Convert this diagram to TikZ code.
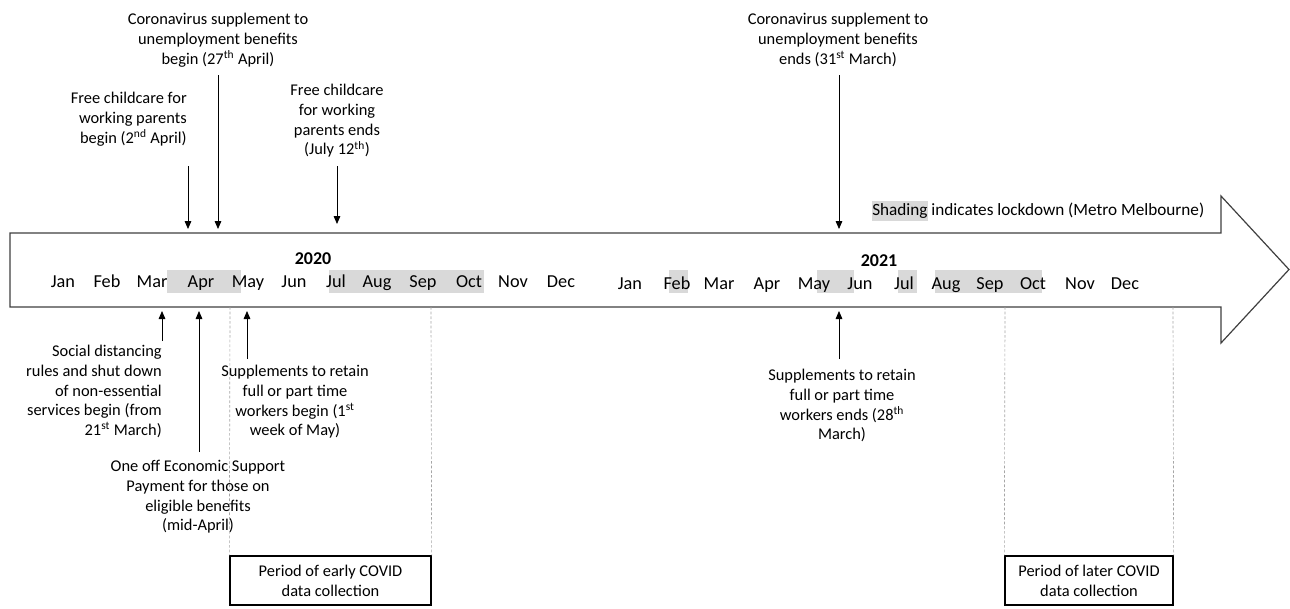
\documentclass[tikz,border=0pt]{standalone}
\usepackage{fontspec}
\setmainfont{Carlito}
\usetikzlibrary{arrows.meta}
\definecolor{shade}{HTML}{D9D9D9}
\definecolor{outl}{HTML}{404040}
\definecolor{dashc}{HTML}{A6A6A6}
\begin{document}
\begin{tikzpicture}[x=0.75pt,y=-0.75pt,
  lbl/.style={font=\fontsize{12.3}{14.8}\selectfont, inner sep=0pt},
  leg/.style={font=\fontsize{12.9}{15.5}\selectfont, inner sep=0pt},
  mon/.style={font=\fontsize{13.7}{16.4}\selectfont, inner sep=0pt, anchor=base},
  yr/.style={font=\fontsize{13.5}{16.2}\selectfont\bfseries, inner sep=0pt, anchor=base},
  evt/.style={-{Triangle[length=6pt,width=5pt]}, line width=0.6pt, black},
  period/.style={draw=black, line width=1pt, font=\fontsize{12.3}{14.8}\selectfont, align=center, inner sep=0pt},
  guide/.style={draw=dashc, line width=0.5pt, dash pattern=on 2pt off 1.5pt},
  shadebox/.style={fill=shade, draw=none}
]
\useasboundingbox (0,0) rectangle (1290,608);
\fill[white] (0,0) rectangle (1290,608);

% timeline arrow body
\draw[outl, line width=0.9pt, line join=miter]
  (10,233) -- (1221,233) -- (1221,196) -- (1289,269.5) -- (1221,343) -- (1221,307) -- (10,307) -- cycle;

% lockdown shading
\fill[shadebox] (167,270) rectangle (241,293);
\fill[shadebox] (329,270) rectangle (484,293);
\fill[shadebox] (669,270) rectangle (688,293);
\fill[shadebox] (817,270) rectangle (854,293);
\fill[shadebox] (898,270) rectangle (917,293);
\fill[shadebox] (935,270) rectangle (1042,293);

% years
\node[yr] (y2020) at (313,264) {2020};
\node[yr] (y2021) at (879,266) {2021};

% months
\foreach \m/\x [count=\i] in {Jan/63,Feb/107,Mar/152,Apr/201,May/248,Jun/294,Jul/336,Aug/377,Sep/423,Oct/469,Nov/513,Dec/561}
  \node[mon] (m20-\i) at (\x,287) {\m};
\foreach \m/\x [count=\i] in {Jan/630,Feb/677,Mar/719,Apr/767,May/814,Jun/860,Jul/904,Aug/946,Sep/990,Oct/1033,Nov/1080,Dec/1125}
  \node[mon] (m21-\i) at (\x,289) {\m};

% legend
\node[leg, anchor=west] (legend) at (872,211)
  {{\setlength\fboxsep{0pt}\colorbox{shade}{Shading\strut}} indicates lockdown (Metro Melbourne)};

% annotations above
\node[lbl, align=center, anchor=north] (cs1) at (218,13)
  {Coronavirus supplement to\\unemployment benefits\\begin (27\textsuperscript{th} April)};
\node[lbl, align=right, anchor=north east] (fc1) at (187,92)
  {Free childcare for\\working parents\\begin (2\textsuperscript{nd} April)};
\node[lbl, align=center, anchor=north] (fc2) at (337,84)
  {Free childcare\\for working\\parents ends\\(July 12\textsuperscript{th})};
\node[lbl, align=center, anchor=north] (cs2) at (838,13)
  {Coronavirus supplement to\\unemployment benefits\\ends (31\textsuperscript{st} March)};

% annotations below
\node[lbl, align=right, anchor=north east] (sd) at (162,345)
  {Social distancing\\rules and shut down\\of non-essential\\services begin (from\\21\textsuperscript{st} March)};
\node[lbl, align=center, anchor=north] (oo) at (198,460)
  {One off Economic Support\\Payment for those on\\eligible benefits\\(mid-April)};
\node[lbl, align=center, anchor=north] (sp1) at (295,365)
  {Supplements to retain\\full or part time\\workers begin (1\textsuperscript{st}\\week of May)};
\node[lbl, align=center, anchor=north] (sp2) at (842,369)
  {Supplements to retain\\full or part time\\workers ends (28\textsuperscript{th}\\March)};

% arrow end points
\coordinate (cs1-a) at (218,75);  \coordinate (cs1-b) at (218,229);
\coordinate (fc1-a) at (188,166); \coordinate (fc1-b) at (188,229);
\coordinate (fc2-a) at (337,166); \coordinate (fc2-b) at (337,224);
\coordinate (cs2-a) at (839,75);  \coordinate (cs2-b) at (839,229);
\coordinate (sd-a) at (162,341);  \coordinate (sd-b) at (162,311);
\coordinate (oo-a) at (199,452);  \coordinate (oo-b) at (199,311);
\coordinate (sp1-a) at (247,359); \coordinate (sp1-b) at (247,311);
\coordinate (sp2-a) at (839,359); \coordinate (sp2-b) at (839,311);

\foreach \e in {cs1,fc1,fc2,cs2,sd,oo,sp1,sp2}
  \draw[evt] (\e-a) -- (\e-b);

% data collection periods
\node[period, minimum width=201*0.75pt, minimum height=49*0.75pt] (early) at (330.5,580.5)
  {Period of early COVID\\data collection};
\node[period, minimum width=168*0.75pt, minimum height=49*0.75pt] (later) at (1089,580.5)
  {Period of later COVID\\data collection};

\coordinate (g1) at (230,307); \coordinate (g2) at (431,307);
\coordinate (g3) at (1005,307); \coordinate (g4) at (1173,307);
\draw[guide] (g1) -- (early.north west);
\draw[guide] (g2) -- (early.north east);
\draw[guide] (g3) -- (later.north west);
\draw[guide] (g4) -- (later.north east);
\end{tikzpicture}
\end{document}
